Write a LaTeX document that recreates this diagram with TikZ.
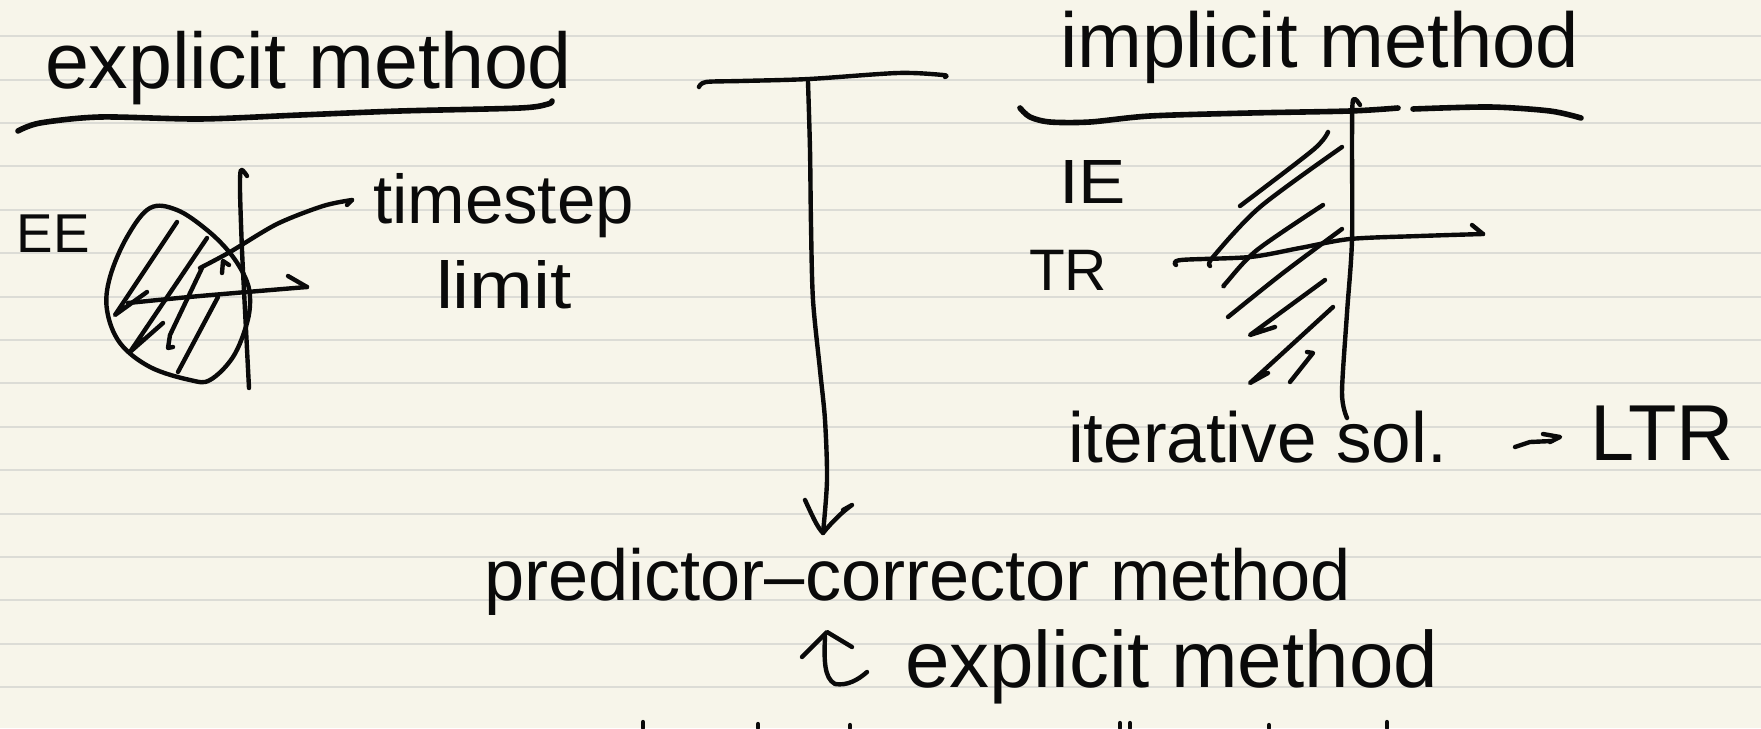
\documentclass[tikz,border=0pt]{standalone}
\usepackage{fontspec}
\setmainfont{Liberation Sans}
\usepackage{graphicx}
\definecolor{paper}{RGB}{247,245,234}
\definecolor{rulecol}{RGB}{220,220,214}
\definecolor{ink}{RGB}{10,10,10}
\tikzset{
  pen/.style={draw=ink, line width=2.2pt, line cap=round, line join=round},
  heavypen/.style={pen, line width=2.8pt},
  ruling/.style={draw=rulecol, line width=1pt},
  hw/.style={inner sep=0pt, outer sep=0pt, anchor=base west, text=ink},
}
\newcommand{\hwtext}[2]{\resizebox{#1}{!}{\fontsize{40}{48}\selectfont #2}}
\newcommand{\hwbox}[3]{\resizebox{#1}{#2}{\fontsize{40}{48}\selectfont #3}}
\begin{document}
\begin{tikzpicture}[x=0.5pt,y=-0.5pt]
\fill[paper] (0,0) rectangle (1761,728);
\useasboundingbox (0,0) rectangle (1761,728);
% ruled paper
\foreach \k in {0,...,15}{
  \draw[ruling] (0,{36.2+43.4*\k}) -- (1761,{36.2+43.4*\k});
}

% ---------------- texts ----------------
\node[hw] (expl)  at (45,88)   {\hwtext{263.5pt}{explicit method}};
\node[hw] (EE)    at (17,252)  {\hwtext{36.5pt}{EE}};
\node[hw] (ts)    at (373,223) {\hwtext{130.5pt}{timestep}};
\node[hw] (lim)   at (436,308) {\hwbox{68pt}{24pt}{limit}};
\node[hw] (impl)  at (1060,68) {\hwtext{259.5pt}{implicit method}};
\node[hw] (IE)    at (1059,203){\hwbox{33.5pt}{21.5pt}{IE}};
\node[hw] (TR)    at (1029,290){\hwtext{39pt}{TR}};
\node[hw] (iter)  at (1068,462){\hwtext{189.5pt}{iterative sol.}};
\node[hw] (LTR)   at (1590,460){\hwtext{72pt}{LTR}};
\node[hw] (pc)    at (484,600) {\hwtext{433.5pt}{predictor–corrector method}};
\node[hw] (expl2) at (905,687) {\hwtext{266.5pt}{explicit method}};

% ---------------- underlines ----------------
\draw[heavypen] plot[smooth] coordinates {(18,131) (40,123) (100,117) (200,119) (300,115) (400,111) (520,108) (548,104) (552,101)};
\draw[heavypen] plot[smooth] coordinates {(1020,108) (1030,117) (1050,122) (1090,122) (1150,116) (1250,113) (1350,111) (1398,108)};
\draw[heavypen] plot[smooth] coordinates {(1413,109) (1490,107) (1550,111) (1581,118)};

% ---------------- explicit sketch (left) ----------------
% stability region blob
\draw[pen] plot[smooth cycle, tension=0.6] coordinates {(150,208) (177,210) (207,230) (230,253) (245,277) (250,297) (247,323) (233,357) (210,380) (190,380) (150,367) (120,343) (107,310) (110,277) (127,237)};
% hatching
\draw[pen] (177,222) -- (115,315) -- (147,292);
\draw[pen] (207,238) -- (130,352) -- (163,323);
\draw[pen] (202,268) -- (170,335) -- (168,348) -- (173,347);
\draw[pen] (218,297) -- (178,372);
\draw[pen] (222,273) -- (223,261) -- (229,265);
% axes
\draw[pen] plot[smooth] coordinates {(247,176) (241,170) (240,190) (242,250) (245,310) (249,388)};
\draw[pen] plot[smooth] coordinates {(128,303) (200,296) (307,287)};
\draw[pen] (288,276) -- (307,287);
% pointer to "timestep limit"
\coordinate (ptA) at (200,268);
\coordinate (ptB) at (352,200);
\draw[pen] plot[smooth] coordinates {(ptA) (230,252) (277,224) (323,206) (ptB)};
\draw[pen] (ptB) -- (347,205);

% ---------------- T bar and arrow (middle) ----------------
\coordinate (barL) at (699,87);
\coordinate (barR) at (945,77);
\coordinate (tip)  at (823,533);
\draw[pen] plot[smooth] coordinates {(barL) (706,82) (741,81) (809,79) (898,73) (943,75) (barR)};
\draw[pen] plot[smooth] coordinates {(808,82) (810,150) (811,225) (813,300) (820,370) (825,420) (827,480) (tip)};
\draw[pen] (805,500) .. controls (812,515) and (817,527) .. (tip) .. controls (832,522) and (842,512) .. (852,505) -- (843,510);
% up arrow to second explicit method
\coordinate (uptip) at (827,632);
\draw[pen] (802,657) -- (uptip) -- (852,647);
\draw[pen] (825,636) .. controls (824,660) and (824,678) .. (835,684) .. controls (847,686) and (858,680) .. (867,672);

% ---------------- implicit sketch (right) ----------------
\draw[pen] plot[smooth] coordinates {(1360,105) (1353,100) (1352,140) (1352,240) (1347,313) (1342,393) (1347,418)};
\draw[pen] plot[smooth] coordinates {(1176,265) (1181,260) (1250,257) (1300,248) (1350,239) (1420,236) (1483,234)};
\draw[pen] (1472,225) -- (1483,234);
% hatching
\draw[pen] plot[smooth] coordinates {(1328,132) (1313,150) (1240,206)};
\draw[pen] plot[smooth] coordinates {(1342,147) (1260,207) (1213,257) (1210,266)};
\draw[pen] plot[smooth] coordinates {(1323,205) (1257,250) (1226,283) (1224,286)};
\draw[pen] plot[smooth] coordinates {(1342,229) (1283,273) (1228,317)};
\draw[pen] (1325,280) -- (1250,335) -- (1275,327);
\draw[pen] (1333,307) -- (1250,383) -- (1268,373);
\draw[pen] (1290,382) -- (1313,353) -- (1307,352);
% small arrow towards LTR
\coordinate (arS) at (1515,447);
\coordinate (arE) at (1552,441);
\draw[pen] (arS) -- (1530,442) -- (arE);
\draw[pen] (1543,434) -- (1560,437) -- (1550,442);

% ---------------- cut-off strokes at the bottom edge ----------------
\foreach \xx/\yy in {643/722, 758/724, 850/725, 1120/723, 1130/723, 1269/725, 1387/722}{
  \draw[pen] (\xx,\yy) -- (\xx,728);
}
\end{tikzpicture}
\end{document}
